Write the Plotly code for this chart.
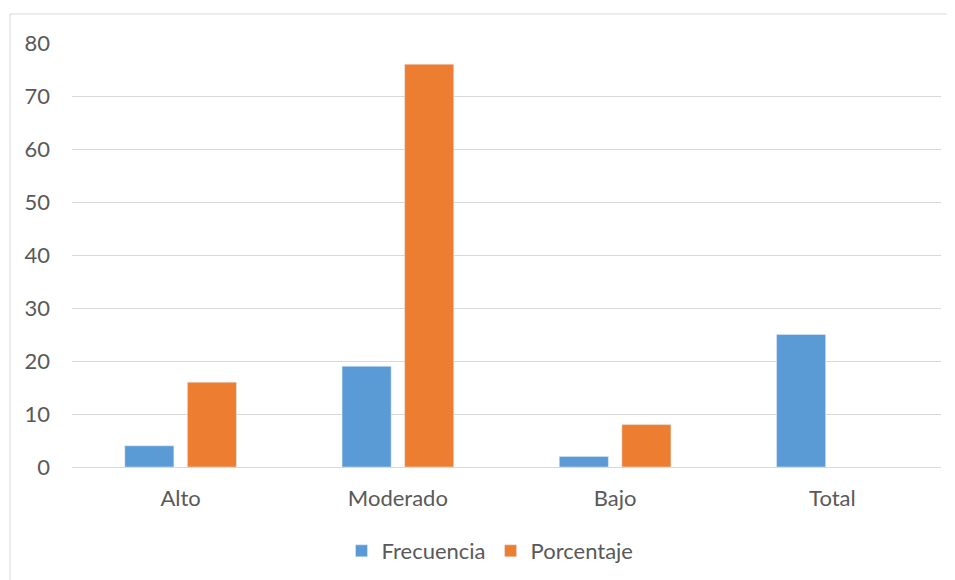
import plotly.graph_objects as go

categories = ["Alto", "Moderado", "Bajo", "Total"]
frecuencia = [4, 19, 2, 25]
porcentaje = [16, 76, 8, None]
y_ticks = [0, 10, 20, 30, 40, 50, 60, 70, 80]

FONT = "Lato"
TXT = "#595959"
FS = 22

# page body has an 8px offset; compensate so the chart lands where the reference is
OFF = 8
W, H = 955 - OFF, 580 - OFF
L, R, T, B = 72 - OFF, 14, 43 - OFF, 580 - 467
PW = W - L - R
PH = H - T - B

fig = go.Figure()
fig.add_trace(go.Bar(name="Frecuencia", x=categories, y=frecuencia, marker_color="#5B9BD5"))
fig.add_trace(go.Bar(name="Porcentaje", x=categories, y=porcentaje, marker_color="#ED7D31"))

fig.update_layout(
    width=W, height=H,
    margin=dict(l=L, r=R, t=T, b=B, autoexpand=False),
    paper_bgcolor="white", plot_bgcolor="white",
    barmode="group", bargap=0.424, bargroupgap=0.216,
    font=dict(family=FONT, color=TXT, size=FS),
    legend=dict(orientation="h", xref="container", yref="container",
                x=(495 - 5 - OFF) / W, xanchor="center",
                y=(580 - 551) / H, yanchor="middle",
                font=dict(size=FS, color=TXT), traceorder="normal", itemwidth=30),
    xaxis=dict(showgrid=False, showline=False, ticks="", ticklabelstandoff=16,
               tickfont=dict(size=FS, color=TXT), range=[-0.5, 3.5]),
    yaxis=dict(range=[0, 80], tickvals=y_ticks, showgrid=True, gridcolor="#D9D9D9", gridwidth=1,
               zeroline=True, zerolinecolor="#D9D9D9", zerolinewidth=1, showline=False,
               ticks="", ticklabelstandoff=21, tickfont=dict(size=FS, color=TXT)),
    shapes=[dict(type="rect", xref="paper", yref="paper",
                 x0=(10 - 72) / PW, x1=1.2, y0=-0.5, y1=(467 - 14) / PH,
                 line=dict(color="#D9D9D9", width=1), fillcolor="rgba(0,0,0,0)", layer="below")],
)

fig.write_html("out.html")
